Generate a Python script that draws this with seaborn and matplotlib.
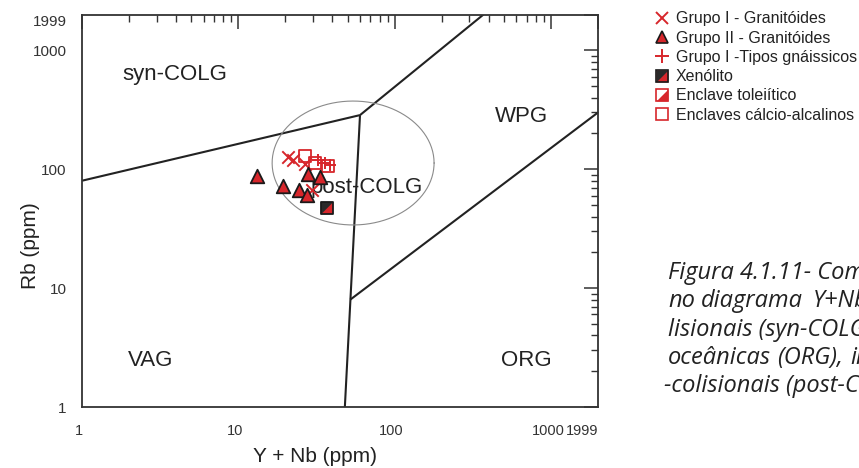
import numpy as np
import pandas as pd
import matplotlib
matplotlib.use("Agg")
import matplotlib.pyplot as plt
import matplotlib.transforms as mtransforms
import seaborn as sns
from matplotlib.lines import Line2D
from matplotlib.ticker import LogLocator, FixedLocator, NullFormatter, FixedFormatter

# ---- sample data: Y+Nb (ppm) vs Rb (ppm) ----
g1_ynb = [20.9, 22.5, 26.7, 29.5]          # Grupo I - Granitóides
g1_rb = [126, 119, 111, 67]
g2_ynb = [13.1, 19.3, 24.5, 27.3, 28.0, 33.1]  # Grupo II - Granitóides
g2_rb = [88, 72, 67, 61, 91, 86]
gn_ynb = [32.5, 35.9, 38.6]                # Grupo I - Tipos gnáissicos
gn_rb = [120, 113, 108]
xen_ynb = [37.0]                           # Xenólito
xen_rb = [47]
enc_ynb = [26.7, 31.0, 37.6]               # Enclaves cálcio-alcalinos
enc_rb = [129, 112, 107]

# ---- Pearce et al. (1984) field boundaries ----
syn_vag_x = [1, 60]
syn_vag_y = [80, 285]
syn_wpg_x = [60, 370]
syn_wpg_y = [285, 1999]
vag_org_x = [60, 48]
vag_org_y = [285, 1]
wpg_org_x = [52, 1999]
wpg_org_y = [8, 300]
# post-COLG field (circle in log space)
post_cx, post_cy = 1.734, 2.052
post_rx, post_ry = 0.518, 0.521

tick_vals = [1, 10, 100, 1000, 1999]
tick_text = ["1", "10", "100", "1000", "1999"]

field_labels = ["syn-COLG", "WPG", "post-COLG", "VAG", "ORG"]
field_x = [3.94, 644, 66.6, 2.76, 693]
field_y = [620, 275, 70.8, 2.48, 2.48]

RED = "#d7262b"
DARK = "#222222"

sns.set_style("white")
plt.rcParams["font.family"] = ["Liberation Sans", "DejaVu Sans"]

fig = plt.figure(figsize=(8.59, 4.68), dpi=100)
ax = fig.add_axes([0.0955, 0.1303, 0.6007, 0.8387])
ax.set_xscale("log")
ax.set_yscale("log")
ax.set_xlim(1, 1999)
ax.set_ylim(1, 1999)

# field boundaries
for bx, by in [(syn_vag_x, syn_vag_y), (syn_wpg_x, syn_wpg_y),
               (vag_org_x, vag_org_y), (wpg_org_x, wpg_org_y)]:
    ax.plot(bx, by, color=DARK, lw=1.5, solid_capstyle="butt", zorder=2)

t = np.linspace(0, 2 * np.pi, 300)
ax.plot(10 ** (post_cx + post_rx * np.cos(t)), 10 ** (post_cy + post_ry * np.sin(t)),
        color="#8a8a8a", lw=0.8, zorder=2)

for lab, lx, ly in zip(field_labels, field_x, field_y):
    ax.text(lx, ly, lab, fontsize=16, color=DARK, ha="center", va="center", zorder=3)

# data
df_g1 = pd.DataFrame({"x": g1_ynb, "y": g1_rb})
df_g2 = pd.DataFrame({"x": g2_ynb, "y": g2_rb})
df_gn = pd.DataFrame({"x": gn_ynb, "y": gn_rb})
df_xen = pd.DataFrame({"x": xen_ynb, "y": xen_rb})
df_enc = pd.DataFrame({"x": enc_ynb, "y": enc_rb})

tri_ul = [(-1, -1), (-1, 1), (1, 1), (-1, -1)]
tri_lr = [(-1, -1), (1, -1), (1, 1), (-1, -1)]

sns.scatterplot(data=df_enc, x="x", y="y", marker="s", s=75, facecolor="none",
                edgecolor=RED, linewidth=1.3, ax=ax, zorder=4)
sns.scatterplot(data=df_g1, x="x", y="y", marker="x", s=80, color=RED,
                linewidth=1.4, ax=ax, zorder=5)
sns.scatterplot(data=df_gn, x="x", y="y", marker="+", s=80, color=RED,
                linewidth=1.4, ax=ax, zorder=5)
sns.scatterplot(data=df_g2, x="x", y="y", marker="^", s=95, color=RED,
                edgecolor="#1a1a1a", linewidth=1.3, ax=ax, zorder=6)
sns.scatterplot(data=df_xen, x="x", y="y", marker="s", s=80, color=RED,
                edgecolor="none", ax=ax, zorder=6)
sns.scatterplot(data=df_xen, x="x", y="y", marker=tri_ul, s=80, color="#2a2a2a",
                edgecolor="none", ax=ax, zorder=7)
sns.scatterplot(data=df_xen, x="x", y="y", marker="s", s=80, facecolor="none",
                edgecolor="#1a1a1a", linewidth=1.3, ax=ax, zorder=8)

# axes styling
for sp in ax.spines.values():
    sp.set_color("#333333")
    sp.set_linewidth(1.3)
for axis in (ax.xaxis, ax.yaxis):
    axis.set_major_locator(FixedLocator(tick_vals))
    axis.set_major_formatter(FixedFormatter(tick_text))
    axis.set_minor_locator(LogLocator(base=10, subs=np.arange(2, 10), numticks=20))
    axis.set_minor_formatter(NullFormatter())
ax.tick_params(which="both", direction="in", top=True, right=True, colors="#333333",
               labelcolor="#333333", labelsize=11)
ax.tick_params(axis="x", labelsize=10.5)
ax.tick_params(which="major", length=10, width=1.1)
ax.tick_params(which="minor", length=5, width=1.0)
ax.tick_params(axis="x", which="major", pad=12)
ax.tick_params(axis="y", which="major", pad=11)
fig.canvas.draw()
shift_left = mtransforms.ScaledTranslation(-3 / 100, 0, fig.dpi_scale_trans)
xlabels = ax.get_xticklabels()
for lbl in xlabels[:-1]:
    lbl.set_transform(lbl.get_transform() + shift_left)
xlabels[-1].set_ha("right")
ax.get_yticklabels()[-1].set_va("top")

ax.set_xlabel("Y + Nb (ppm)", fontsize=15, color=DARK)
ax.set_ylabel("Rb (ppm)", fontsize=15, color=DARK)
ax.xaxis.set_label_coords(0.452, -0.103)
ax.yaxis.set_label_coords(-0.082, 0.41)

# legend
h_g1 = Line2D([], [], ls="none", marker="x", ms=9, mew=1.4, color=RED)
h_g2 = Line2D([], [], ls="none", marker="^", ms=9, mfc=RED, mec="#1a1a1a", mew=1.2)
h_gn = Line2D([], [], ls="none", marker="+", ms=10, mew=1.4, color=RED)
h_xen = (Line2D([], [], ls="none", marker="s", ms=8.5, mfc=RED, mec="none"),
         Line2D([], [], ls="none", marker=tri_ul, ms=8.5, mfc="#2a2a2a", mec="none"),
         Line2D([], [], ls="none", marker="s", ms=8.5, mfc="none", mec="#1a1a1a", mew=1.2))
h_tol = (Line2D([], [], ls="none", marker=tri_lr, ms=8.5, mfc=RED, mec="none"),
         Line2D([], [], ls="none", marker="s", ms=8.5, mfc="none", mec=RED, mew=1.2))
h_enc = Line2D([], [], ls="none", marker="s", ms=8.5, mfc="none", mec=RED, mew=1.2)
fig.legend([h_g1, h_g2, h_gn, h_xen, h_tol, h_enc],
           ["Grupo I - Granitóides", "Grupo II - Granitóides", "Grupo I -Tipos gnáissicos",
            "Xenólito", "Enclave toleiítico", "Enclaves cálcio-alcalinos"],
           loc="upper left", bbox_to_anchor=(0.762, 0.976), frameon=False,
           fontsize=11.5, labelspacing=0.27, handlelength=0.9, handletextpad=0.45,
           borderpad=0, borderaxespad=0, labelcolor=DARK)

# caption (justified block running past the right edge)
cap_font = dict(fontsize=17, style="italic", color=DARK,
                family=["Open Sans", "DejaVu Sans"], va="center", ha="left")
caption_rows = [
    (273, [("Figura 4.1.11- Composição", 668)]),
    (301, [("no", 668), ("diagrama", 701), ("Y+Nb", 813)]),
    (330, [("lisionais (syn-COLG),", 668)]),
    (358, [("oceânicas", 668), ("(ORG),", 777), ("intraplaca", 850)]),
    (386, [("-colisionais (post-COLG).", 664)]),
]
for py, words in caption_rows:
    for word, px in words:
        fig.text(px / 859, 1 - py / 468, word, **cap_font)

fig.savefig("out.png", dpi=100)
